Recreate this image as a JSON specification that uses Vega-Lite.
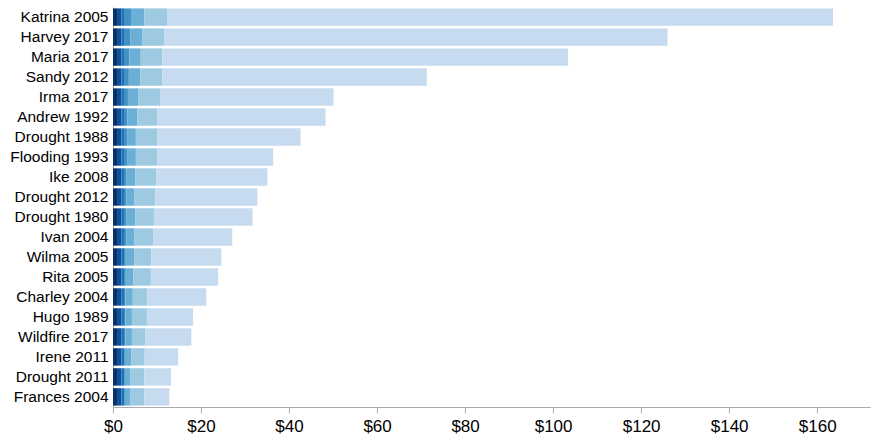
{
  "$schema": "https://vega.github.io/schema/vega-lite/v6.json",
  "width": 757,
  "height": 400,
  "autosize": {"type": "none"},
  "padding": {"left": 113, "top": 7, "right": 9, "bottom": 33},
  "background": "white",
  "config": {"view": {"stroke": null}, "font": "Liberation Sans"},
  "data": {
    "values": [
      {"name": "Katrina 2005", "s1": 1.1, "s2": 0.8, "s3": 0.6, "s4": 1.6, "s5": 3.0, "s6": 5.3, "s7": 151.2},
      {"name": "Harvey 2017", "s1": 1.1, "s2": 0.8, "s3": 0.6, "s4": 1.4, "s5": 2.7, "s6": 5.0, "s7": 114.4},
      {"name": "Maria 2017", "s1": 1.1, "s2": 0.8, "s3": 0.6, "s4": 1.2, "s5": 2.6, "s6": 4.9, "s7": 92.2},
      {"name": "Sandy 2012", "s1": 1.1, "s2": 0.8, "s3": 0.6, "s4": 1.1, "s5": 2.6, "s6": 5.0, "s7": 60.1},
      {"name": "Irma 2017", "s1": 1.1, "s2": 0.8, "s3": 0.6, "s4": 0.9, "s5": 2.3, "s6": 5.0, "s7": 39.4},
      {"name": "Andrew 1992", "s1": 1.1, "s2": 0.8, "s3": 0.6, "s4": 0.8, "s5": 2.2, "s6": 4.6, "s7": 38.2},
      {"name": "Drought 1988", "s1": 1.1, "s2": 0.8, "s3": 0.6, "s4": 0.7, "s5": 2.0, "s6": 4.9, "s7": 32.5},
      {"name": "Flooding 1993", "s1": 1.1, "s2": 0.8, "s3": 0.6, "s4": 0.7, "s5": 2.0, "s6": 4.9, "s7": 26.3},
      {"name": "Ike 2008", "s1": 1.1, "s2": 0.8, "s3": 0.6, "s4": 0.6, "s5": 2.0, "s6": 4.8, "s7": 25.2},
      {"name": "Drought 2012", "s1": 1.1, "s2": 0.8, "s3": 0.6, "s4": 0.5, "s5": 1.9, "s6": 4.7, "s7": 23.2},
      {"name": "Drought 1980", "s1": 1.1, "s2": 0.8, "s3": 0.6, "s4": 0.6, "s5": 2.0, "s6": 4.2, "s7": 22.4},
      {"name": "Ivan 2004", "s1": 1.1, "s2": 0.8, "s3": 0.6, "s4": 0.5, "s5": 1.9, "s6": 4.3, "s7": 17.9},
      {"name": "Wilma 2005", "s1": 1.1, "s2": 0.8, "s3": 0.6, "s4": 0.4, "s5": 1.9, "s6": 3.9, "s7": 15.9},
      {"name": "Rita 2005", "s1": 1.1, "s2": 0.8, "s3": 0.6, "s4": 0.4, "s5": 1.7, "s6": 4.0, "s7": 15.3},
      {"name": "Charley 2004", "s1": 1.1, "s2": 0.8, "s3": 0.6, "s4": 0.3, "s5": 1.7, "s6": 3.3, "s7": 13.4},
      {"name": "Hugo 1989", "s1": 1.1, "s2": 0.8, "s3": 0.6, "s4": 0.3, "s5": 1.5, "s6": 3.4, "s7": 10.5},
      {"name": "Wildfire 2017", "s1": 1.1, "s2": 0.8, "s3": 0.6, "s4": 0.3, "s5": 1.5, "s6": 3.1, "s7": 10.4},
      {"name": "Irene 2011", "s1": 1.1, "s2": 0.8, "s3": 0.6, "s4": 0.2, "s5": 1.5, "s6": 3.0, "s7": 7.6},
      {"name": "Drought 2011", "s1": 1.1, "s2": 0.8, "s3": 0.6, "s4": 0.2, "s5": 1.3, "s6": 3.1, "s7": 6.1},
      {"name": "Frances 2004", "s1": 1.1, "s2": 0.8, "s3": 0.6, "s4": 0.2, "s5": 1.3, "s6": 3.1, "s7": 5.7}
    ]
  },
  "transform": [
    {"fold": ["s1", "s2", "s3", "s4", "s5", "s6", "s7"], "as": ["seg", "v"]}
  ],
  "mark": {"type": "bar"},
  "encoding": {
    "y": {
      "field": "name",
      "type": "nominal",
      "sort": null,
      "scale": {"paddingInner": 0.13, "paddingOuter": 0.07},
      "axis": {
        "title": null,
        "ticks": false,
        "labelPadding": 5,
        "labelFontSize": 15.5,
        "labelColor": "#000",
        "domainColor": "#aaa",
        "domainWidth": 1
      }
    },
    "x": {
      "field": "v",
      "type": "quantitative",
      "stack": "zero",
      "scale": {"domain": [0, 172], "nice": false},
      "axis": {
        "title": null,
        "grid": false,
        "values": [0, 20, 40, 60, 80, 100, 120, 140, 160],
        "format": "$.0f",
        "labelFlush": false,
        "labelFontSize": 17,
        "labelColor": "#000",
        "labelPadding": 5,
        "tickSize": 6,
        "tickColor": "#aaa",
        "domainColor": "#aaa"
      }
    },
    "color": {
      "field": "seg",
      "type": "nominal",
      "scale": {
        "domain": ["s1", "s2", "s3", "s4", "s5", "s6", "s7"],
        "range": ["#08306b", "#08519c", "#2171b5", "#4292c6", "#6baed6", "#9ecae1", "#c6dbef"]
      },
      "legend": null
    },
    "order": {"field": "seg", "type": "ordinal"}
  }
}
